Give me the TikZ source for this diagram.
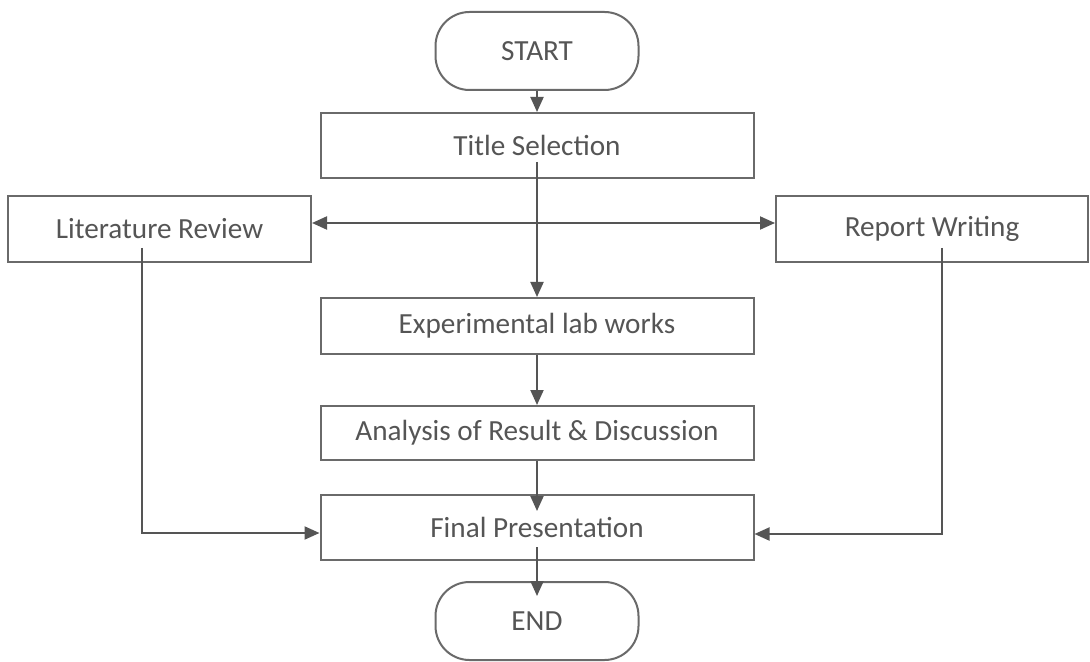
\documentclass[tikz,border=0pt]{standalone}
\usepackage{fontspec}
\setmainfont{Carlito}
\usetikzlibrary{arrows.meta,calc}
\definecolor{boxline}{HTML}{6A6A6A}
\definecolor{conline}{HTML}{555555}
\definecolor{txt}{HTML}{555555}
\begin{document}
\begin{tikzpicture}[x=0.5pt,y=-0.5pt,
  every node/.style={font=\fontsize{14.6}{17}\selectfont, text=txt, inner sep=0pt},
  procbox/.style={draw=boxline, line width=1pt, fill=white, minimum width=216.5pt},
  termbox/.style={draw=boxline, line width=1pt, fill=white, rounded corners=17pt, minimum width=101.5pt, minimum height=39pt},
  sidebox/.style={draw=boxline, line width=1pt, fill=white, minimum height=33pt},
  arr/.style={draw=conline, line width=1pt, -{Triangle[length=7.5pt,width=6.5pt]}},
  arrboth/.style={draw=conline, line width=1pt, {Triangle[length=7.5pt,width=6.5pt]}-{Triangle[length=7.5pt,width=6.5pt]}}
]
\useasboundingbox (0,0) rectangle (1090,662);
\fill[white] (0,0) rectangle (1090,662);

\node[termbox] (start) at (537,51) {START};
\node[procbox, minimum height=32.5pt] (title) at (537,145.5) {Title Selection};
\node[sidebox, minimum width=151.5pt] (lit) at (159.5,229) {Literature Review};
\node[sidebox, minimum width=156pt] (report) at (932,229) {Report Writing};
\node[procbox, minimum height=28pt] (exp) at (537,326) {Experimental lab works};
\node[procbox, minimum height=27pt] (ana) at (537,433) {Analysis of Result \& Discussion};
\node[procbox, minimum height=32.5pt] (final) at (537,527.5) {Final Presentation};
\node[termbox] (end) at (537,621) {END};

\draw[arr] (start.south) -- (title.north);
\draw[arr] ($(title.center)+(0,16.5)$) -- (exp.north);
\draw[arrboth] ([yshift=3pt]lit.east) -- ([yshift=3pt]report.west);
\draw[arr] (exp.south) -- (ana.north);
\draw[arr, shorten >=-8.5pt] (ana.south) -- (final.north);
\draw[arr, shorten >=-7.5pt] ($(final.center)+(0,19.5)$) -- (end.north);
\draw[arr] ($(lit.center)+(-17.5,19)$) |- ($(final.west)+(0,5.5)$);
\draw[arr] ($(report.center)+(10,19)$) |- ($(final.east)+(0,6.5)$);
\end{tikzpicture}
\end{document}
